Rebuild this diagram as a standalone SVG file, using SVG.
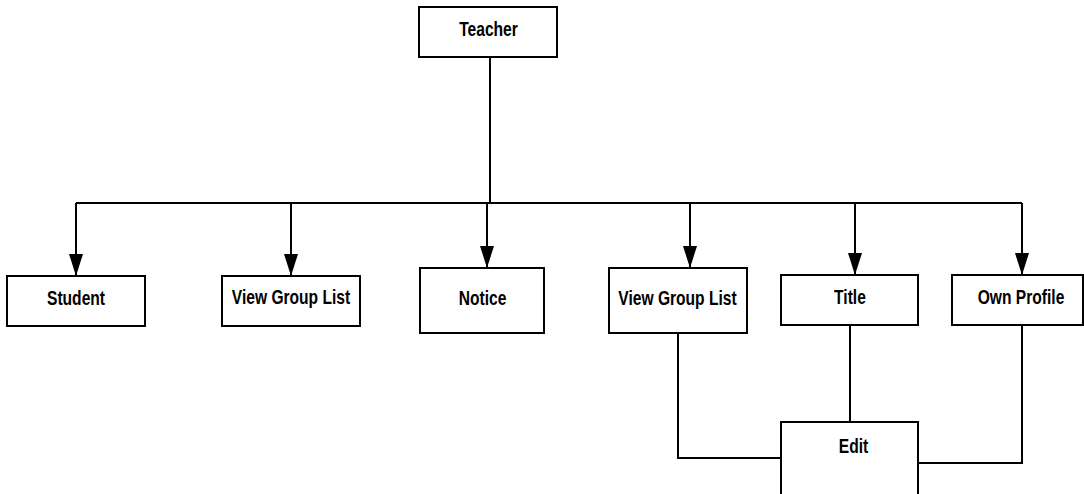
<svg xmlns="http://www.w3.org/2000/svg" width="1084" height="494" viewBox="0 0 1084 494">
<defs>
<style>
.box{fill:#fff;stroke:#000;stroke-width:2}
.lbl{font-family:"Liberation Sans",Arial,sans-serif;font-weight:bold;font-size:20px;text-anchor:middle;fill:#000}
.ln{fill:none;stroke:#000;stroke-width:2}
</style>
<marker id="arr" markerUnits="userSpaceOnUse" markerWidth="22" markerHeight="14" refX="22" refY="7" viewBox="0 0 22 14" orient="auto">
<path d="M0,0 L22,7 L0,14 Z" fill="#000"/>
</marker>
</defs>
<g id="connectors">
<line class="ln" x1="490" y1="57" x2="490" y2="203"/>
<line class="ln" x1="76" y1="203" x2="1022" y2="203"/>
<line class="ln" x1="76" y1="203" x2="76" y2="276" marker-end="url(#arr)"/>
<line class="ln" x1="291" y1="203" x2="291" y2="276" marker-end="url(#arr)"/>
<line class="ln" x1="487" y1="203" x2="487" y2="268" marker-end="url(#arr)"/>
<line class="ln" x1="690" y1="203" x2="690" y2="268" marker-end="url(#arr)"/>
<line class="ln" x1="855" y1="203" x2="855" y2="275" marker-end="url(#arr)"/>
<line class="ln" x1="1022" y1="203" x2="1022" y2="275" marker-end="url(#arr)"/>
<polyline class="ln" points="678,333 678,458 781,458"/>
<line class="ln" x1="850" y1="325" x2="850" y2="422"/>
<polyline class="ln" points="1022,325 1022,463 918,463"/>
</g>
<g id="teacher"><rect class="box" x="419" y="7" width="138" height="50"/><text class="lbl" transform="translate(488.5,36) scale(0.78,1)">Teacher</text></g>
<g id="student"><rect class="box" x="7" y="276" width="138" height="50"/><text class="lbl" transform="translate(76,305) scale(0.78,1)">Student</text></g>
<g id="viewgroup1"><rect class="box" x="222" y="276" width="138" height="50"/><text class="lbl" transform="translate(291,304) scale(0.78,1)">View Group List</text></g>
<g id="notice"><rect class="box" x="420" y="268" width="124" height="65"/><text class="lbl" transform="translate(482.5,305) scale(0.78,1)">Notice</text></g>
<g id="viewgroup2"><rect class="box" x="609" y="268" width="138" height="65"/><text class="lbl" transform="translate(677.5,305) scale(0.78,1)">View Group List</text></g>
<g id="title"><rect class="box" x="781" y="275" width="137" height="50"/><text class="lbl" transform="translate(850,304) scale(0.78,1)">Title</text></g>
<g id="ownprofile"><rect class="box" x="952" y="275" width="131" height="50"/><text class="lbl" transform="translate(1021,304) scale(0.78,1)">Own Profile</text></g>
<g id="edit"><rect class="box" x="781" y="422" width="137" height="80"/><text class="lbl" transform="translate(853.5,453) scale(0.78,1)">Edit</text></g>
</svg>
